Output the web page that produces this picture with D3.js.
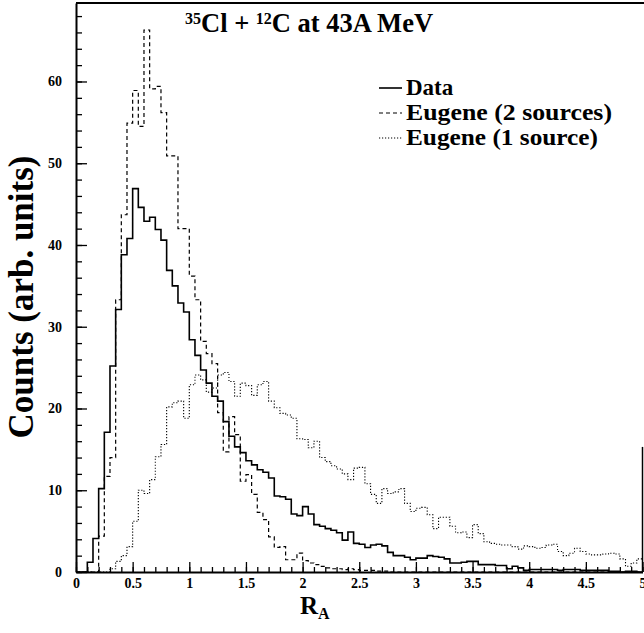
<!DOCTYPE html>
<html>
<head>
<meta charset="utf-8">
<script src="https://cdn.jsdelivr.net/npm/d3@7"></script>
<style>
  body { margin: 0; background: #fff; }
  text { font-family: 'Liberation Serif', 'DejaVu Serif', serif; font-weight: bold; fill: #000; }
</style>
</head>
<body>
<script>
let w = 644;
let h = 633;

// histogram bins: 0 to 5 in steps of 0.05 (value = counts in each bin)
let binWidth = 0.05;

let dataCounts = [
  0, 0, 1.2, 4.1, 10.2, 17.1, 25.2, 32.1, 38.8, 40.8,
  46.9, 44.6, 42.9, 43.4, 41.9, 40.6, 36.9, 35.0, 32.9, 31.8,
  28.4, 26.5, 24.7, 23.1, 21.5, 20.9, 18.4, 16.6, 15.3, 14.6,
  13.6, 13.1, 12.5, 12.2, 11.5, 9.3, 9.2, 8.9, 7.1, 6.9,
  8.0, 7.1, 5.8, 5.6, 5.3, 5.1, 4.8, 3.9, 4.9, 3.5,
  3.4, 3.0, 3.3, 3.4, 3.2, 2.4, 2.0, 2.0, 1.8, 1.5,
  1.7, 1.7, 2.0, 1.9, 1.8, 1.6, 1.1, 1.1, 1.2, 1.3,
  1.3, 0.9, 0.9, 0.9, 0.8, 0.8, 0.4, 0.7, 0.5, 0.2,
  0.3, 0.3, 0.3, 0.3, 0.3, 0.2, 0.3, 0.3, 0.3, 0.2,
  0.2, 0.2, 0.2, 0.2, 0.1, 0.1, 0, 0.1, 0.1, 0
];

let eugene2 = [
  0, 0, 0, 0, 4.4, 11.7, 14.0, 33.3, 43.7, 54.9,
  58.9, 54.5, 66.3, 59.1, 59.4, 56.2, 50.9, 50.9, 42.0, 42.0,
  36.2, 33.3, 28.2, 26.7, 25.5, 19.5, 14.7, 19.0, 16.8, 11.1,
  11.9, 9.5, 7.3, 6.4, 4.3, 3.0, 3.1, 1.5, 1.5, 2.3,
  1.4, 1.1, 0.9, 0.7, 0.5, 0.4, 0.4, 0.3, 0.4, 0.3,
  0.2, 0.2, 0.2, 0.1, 0.1, 0, 0, 0, 0, 0,
  0, 0, 0, 0, 0, 0, 0, 0, 0, 0,
  0, 0, 0, 0, 0, 0, 0, 0, 0, 0,
  0, 0, 0, 0, 0, 0, 0, 0, 0, 0,
  0, 0, 0, 0, 0, 0, 0, 0, 0, 0
];

let eugene1 = [
  0, 0, 0, 0, 0, 0, 0.4, 1.3, 2.0, 3.1,
  6.2, 10.0, 9.6, 11.3, 14.1, 15.6, 20.2, 20.7, 20.9, 18.8,
  22.9, 24.1, 23.5, 22.0, 22.5, 24.1, 24.4, 23.3, 21.5, 23.1,
  22.8, 21.6, 22.9, 23.3, 20.9, 20.1, 19.4, 19.2, 18.8, 16.3,
  16.2, 15.2, 16.0, 14.0, 13.5, 13.0, 12.6, 12.0, 11.3, 12.7,
  12.8, 10.8, 9.5, 8.4, 10.2, 9.6, 9.8, 10.2, 8.4, 7.4,
  7.8, 7.9, 7.0, 5.3, 6.7, 6.7, 5.6, 4.8, 4.9, 4.2,
  5.8, 4.7, 3.7, 3.5, 3.4, 3.3, 3.3, 3.1, 2.8, 3.2,
  3.1, 2.9, 3.0, 3.3, 3.4, 2.5, 2.0, 2.3, 2.9, 2.5,
  2.2, 2.1, 2.1, 2.2, 2.3, 2.2, 1.6, 0.7, 1.1, 1.6
];

let xMajorTicks = [0, 0.5, 1, 1.5, 2, 2.5, 3, 3.5, 4, 4.5, 5];
let yMajorTicks = [0, 10, 20, 30, 40, 50, 60];

let legendLabels = ['Data', 'Eugene (2 sources)', 'Eugene (1 source)'];

let x = d3.scaleLinear().domain([0, 5]).range([76, 642.5]);
let y = d3.scaleLinear().domain([0, 69.6]).range([572, 3]);

let svg = d3.select('body')
  .append('svg')
  .attr('width', w)
  .attr('height', h);

// minor ticks
svg.append('g')
  .attr('transform', 'translate(0,' + y(0) + ')')
  .call(d3.axisBottom(x).tickValues(d3.range(0, 5.001, 0.1)).tickSize(-5).tickSizeOuter(0).tickFormat(''))
  .call((g) => g.select('.domain').remove());
svg.append('g')
  .attr('transform', 'translate(' + x(0) + ',0)')
  .call(d3.axisLeft(y).tickValues(d3.range(0, 69, 2)).tickSize(-6).tickSizeOuter(0).tickFormat(''))
  .call((g) => g.select('.domain').remove());

// major ticks + labels
let xAxis = svg.append('g')
  .attr('transform', 'translate(0,' + y(0) + ')')
  .call(d3.axisBottom(x).tickValues(xMajorTicks).tickSize(-10).tickSizeOuter(0).tickPadding(6)
    .tickFormat((d) => String(d)));
xAxis.selectAll('text').attr('font-size', '14px').attr('fill', '#000');

let yAxis = svg.append('g')
  .attr('transform', 'translate(' + x(0) + ',0)')
  .call(d3.axisLeft(y).tickValues(yMajorTicks).tickSize(-11).tickSizeOuter(0).tickPadding(14));
yAxis.selectAll('text').attr('font-size', '14px').attr('fill', '#000');

svg.selectAll('.tick line').attr('stroke', '#000').attr('stroke-width', 1.3);
svg.selectAll('.domain').attr('stroke', '#000').attr('stroke-width', 2);
svg.selectAll('.tick text').style('font-family', "'Liberation Serif', serif").style('font-weight', 'bold');

// frame: top and right edge
svg.append('line')
  .attr('x1', x(0)).attr('x2', w)
  .attr('y1', y(69.6)).attr('y2', y(69.6))
  .attr('stroke', '#000').attr('stroke-width', 2);
svg.append('line')
  .attr('x1', x(5)).attr('x2', x(5))
  .attr('y1', y(15.3)).attr('y2', y(0))
  .attr('stroke', '#000').attr('stroke-width', 1.5);

// histograms as step lines
let stepLine = d3.line()
  .x((d) => x(d[0]))
  .y((d) => y(d[1]))
  .curve(d3.curveStepAfter);

let toSteps = (vals) => {
  let pts = vals.map((v, i) => [i * binWidth, v]);
  pts.push([vals.length * binWidth, vals[vals.length - 1]]);
  return pts;
};

let series = [
  { vals: eugene1, dash: '1.2,1.8', width: 1.1 },
  { vals: eugene2, dash: '4,3', width: 1.2 },
  { vals: dataCounts, dash: null, width: 1.6 }
];

series.forEach((s) => {
  svg.append('path')
    .datum(toSteps(s.vals))
    .attr('d', stepLine)
    .attr('fill', 'none')
    .attr('stroke', '#000')
    .attr('stroke-width', s.width)
    .attr('stroke-dasharray', s.dash);
});

// title
let title = svg.append('text')
  .attr('x', 185)
  .attr('y', 32)
  .attr('font-size', '26.5px');
title.append('tspan').attr('font-size', '16px').attr('dy', -8).text('35');
title.append('tspan').attr('dy', 8).text('Cl + ');
title.append('tspan').attr('font-size', '16px').attr('dy', -8).text('12');
title.append('tspan').attr('dy', 8).text('C at 43A MeV');

// legend
let legendStyles = [
  { dash: null, width: 1.6 },
  { dash: '4,3', width: 1.2 },
  { dash: '1.2,1.8', width: 1.1 }
];
legendLabels.forEach((lbl, i) => {
  let by = 95 + i * 25;
  svg.append('line')
    .attr('x1', 379).attr('x2', 402)
    .attr('y1', by - 7).attr('y2', by - 7)
    .attr('stroke', '#000')
    .attr('stroke-width', legendStyles[i].width)
    .attr('stroke-dasharray', legendStyles[i].dash);
  let t = svg.append('text')
    .attr('x', 406)
    .attr('y', by)
    .attr('font-size', '23px')
    .text(lbl);
  if (lbl !== 'Data') {
    t.attr('textLength', lbl.length > 17 ? 206 : 192).attr('lengthAdjust', 'spacingAndGlyphs');
  }
});

// axis titles
let xt = svg.append('text')
  .attr('x', 300)
  .attr('y', 614)
  .attr('font-size', '25px');
xt.append('tspan').text('R');
xt.append('tspan').attr('font-size', '16px').attr('dy', 5).text('A');

svg.append('text')
  .attr('transform', 'translate(33,297) rotate(-90)')
  .attr('text-anchor', 'middle')
  .attr('font-size', '35px')
  .text('Counts (arb. units)');
</script>
</body>
</html>
